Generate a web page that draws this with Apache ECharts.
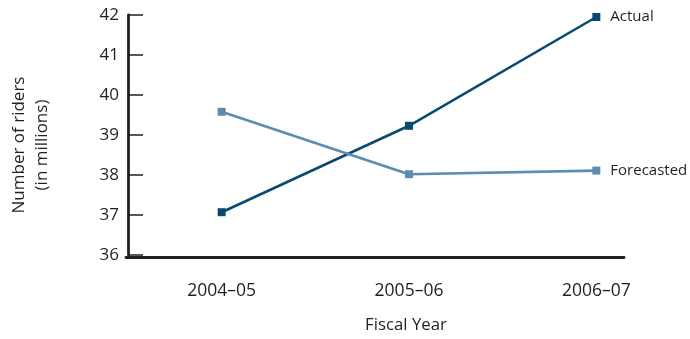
<!DOCTYPE html>
<html><head><meta charset="utf-8">
<script src="https://cdn.jsdelivr.net/npm/echarts@6/dist/echarts.min.js"></script>
<style>html,body{margin:0;padding:0;background:#fff}#c{width:690px;height:339px}</style>
</head><body><div id="c"></div>
<script>
var categories = ['2004\u201305', '2005\u201306', '2006\u201307'];
var actual = [37.07, 39.23, 41.95];
var forecasted = [39.58, 38.02, 38.11];
var yTicks = [36, 37, 38, 39, 40, 41, 42];

var FONT = '"Open Sans", "Noto Sans", sans-serif';
var TXT = '#231f20';
var chart = echarts.init(document.getElementById('c'));
chart.setOption({
  animation: false,
  textStyle: { fontFamily: FONT },
  grid: [
    { left: 126, right: -1, top: 15, bottom: 82 },
    { left: 126, right: 66, top: 15, bottom: 82 }
  ],
  xAxis: [
    {
      type: 'category', gridIndex: 0, data: categories, boundaryGap: true,
      axisLine: { show: false }, axisTick: { show: false },
      axisLabel: { fontSize: 17.5, color: TXT, margin: 27, fontFamily: FONT },
      name: 'Fiscal Year', nameLocation: 'middle', nameGap: 62,
      nameTextStyle: { fontSize: 16.8, color: TXT, fontFamily: FONT, padding: [0, 6, 0, 0] }
    },
    {
      type: 'value', gridIndex: 1, min: 0, max: 1,
      axisLine: { show: true, onZero: false, lineStyle: { color: '#231f20', width: 2.8 } },
      axisTick: { show: false }, axisLabel: { show: false }, splitLine: { show: false }
    }
  ],
  yAxis: [
    {
      type: 'value', gridIndex: 0, min: yTicks[0], max: yTicks[yTicks.length - 1], interval: 1,
      axisLine: { show: true, lineStyle: { color: '#231f20', width: 2.8 } },
      axisTick: { show: true, inside: true, length: 15, lineStyle: { color: '#231f20', width: 1.5 } },
      axisLabel: { fontSize: 17, color: TXT, margin: 9, fontFamily: FONT },
      splitLine: { show: false },
      name: 'Number of riders\n(in millions)', nameLocation: 'middle', nameGap: 74,
      nameTextStyle: { fontSize: 17, color: TXT, lineHeight: 23, fontFamily: FONT, padding: [0, 20, 0, 0] }
    },
    { type: 'value', gridIndex: 1, show: false, min: 0, max: 1 }
  ],
  series: [
    {
      name: 'Actual', type: 'line', data: actual, xAxisIndex: 0, yAxisIndex: 0,
      symbol: 'rect', symbolSize: 8, clip: false,
      lineStyle: { color: '#0b4a70', width: 2.6 }, itemStyle: { color: '#0b4a70' },
      endLabel: { show: true, formatter: 'Actual', fontSize: 15, color: TXT, distance: 14, fontFamily: FONT }
    },
    {
      name: 'Forecasted', type: 'line', data: forecasted, xAxisIndex: 0, yAxisIndex: 0,
      symbol: 'rect', symbolSize: 8, clip: false,
      lineStyle: { color: '#5b8db0', width: 2.6 }, itemStyle: { color: '#5b8db0' },
      endLabel: { show: true, formatter: 'Forecasted', fontSize: 15, color: TXT, distance: 14, fontFamily: FONT }
    }
  ]
});
</script></body></html>
